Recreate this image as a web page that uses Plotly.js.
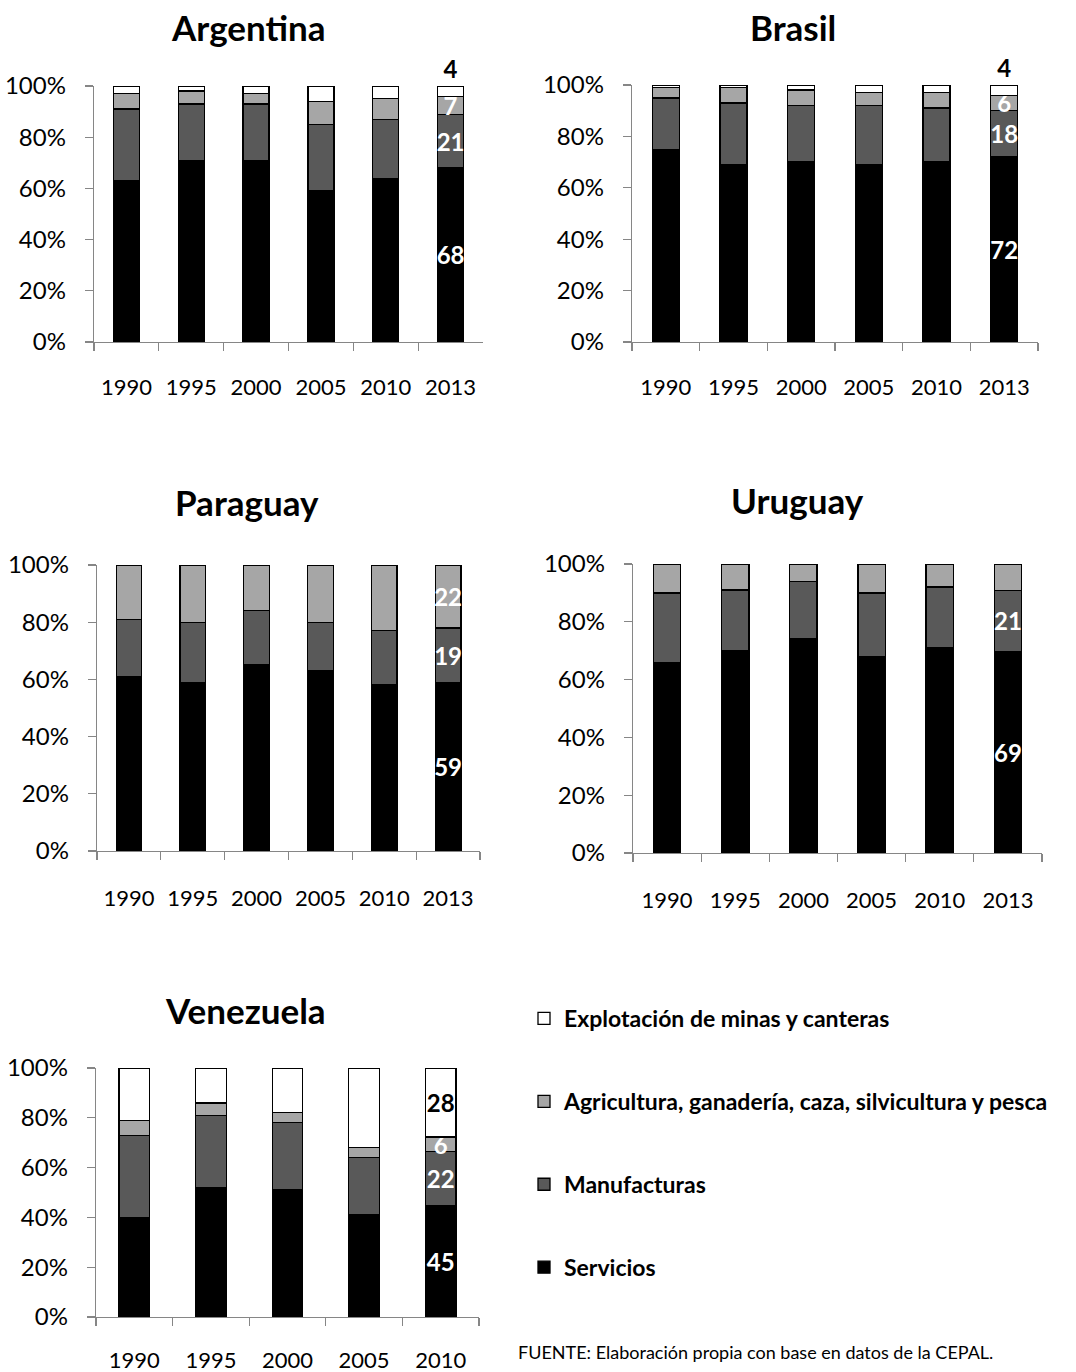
<!DOCTYPE html>
<html>
<head>
<meta charset="utf-8">
<script src="https://cdn.plot.ly/plotly-3.0.1.min.js"></script>
<style>html,body{margin:0;padding:0;background:#fff;}#chart{width:1076px;height:1372px;}</style>
</head>
<body>
<div id="chart"></div>
<script>
// ---- Data ----
const years = ['1990', '1995', '2000', '2005', '2010', '2013'];
const yearsVen = ['1990', '1995', '2000', '2005', '2010'];
const seriesNames = ['Servicios', 'Manufacturas', 'Agricultura, ganadería, caza, silvicultura y pesca', 'Explotación de minas y canteras'];
const countries = ['Argentina', 'Brasil', 'Paraguay', 'Uruguay', 'Venezuela'];

const argServicios = [63, 71, 71, 59, 64, 68];
const argManufacturas = [28, 22, 22, 26, 23, 21];
const argAgricultura = [6, 5, 4, 9, 8, 7];
const argMinas = [3, 2, 3, 6, 5, 4];

const braServicios = [75, 69, 70, 69, 70, 72];
const braManufacturas = [20, 24, 22, 23, 21, 18];
const braAgricultura = [4, 6, 6, 5, 6, 6];
const braMinas = [1, 1, 2, 3, 3, 4];

const parServicios = [61, 59, 65, 63, 58, 59];
const parManufacturas = [20, 21, 19, 17, 19, 19];
const parAgricultura = [19, 20, 16, 20, 23, 22];
const parMinas = [0, 0, 0, 0, 0, 0];

const uruServicios = [66, 70, 74, 68, 71, 69];
const uruManufacturas = [24, 21, 20, 22, 21, 21];
const uruAgricultura = [10, 9, 6, 10, 8, 9];
const uruMinas = [0, 0, 0, 0, 0, 0];

const venServicios = [40, 52, 51, 41, 45];
const venManufacturas = [33, 29, 27, 23, 22];
const venAgricultura = [6, 5, 4, 4, 6];
const venMinas = [21, 14, 18, 32, 28];

const yTickVals = [0, 20, 40, 60, 80, 100];
const sourceText = 'FUENTE: Elaboración propia con base en datos de la CEPAL.';

// ---- Styles ----
const fillColors = ['#000000', '#595959', '#a6a6a6', '#ffffff'];
const labelColors = ['#ffffff', '#ffffff', '#ffffff', '#000000'];
const legendRanks = [4, 3, 2, 1];
const FONT = 'Lato, "Open Sans", sans-serif';

const countryData = [
  {x: years, s: [argServicios, argManufacturas, argAgricultura, argMinas]},
  {x: years, s: [braServicios, braManufacturas, braAgricultura, braMinas]},
  {x: years, s: [parServicios, parManufacturas, parAgricultura, parMinas]},
  {x: years, s: [uruServicios, uruManufacturas, uruAgricultura, uruMinas]},
  {x: yearsVen, s: [venServicios, venManufacturas, venAgricultura, venMinas]}
];

// pixel boxes of plot areas [x0, x1, yTop, yBottom]
const boxes = [
  [94, 483, 86, 342],
  [632, 1038, 85, 342],
  [97, 480, 565, 851],
  [633, 1042, 564, 853],
  [96, 479, 1068, 1317]
];
const xStandoff = [25, 25, 27, 27, 23];
const titlePos = [[248, 27], [793, 27], [247, 502], [797, 500], [246, 1010]];
const W = 1076, H = 1372;

const traces = [];
countryData.forEach((c, ci) => {
  const axn = ci === 0 ? '' : String(ci + 1);
  c.s.forEach((vals, si) => {
    const last = vals.length - 1;
    const text = vals.map((v, i) => (i === last && v > 0) ? String(v) : '');
    const pos = vals.map((v, i) => (si === 3 && v < 8) ? 'outside' : 'inside');
    traces.push({
      type: 'bar',
      x: c.x,
      y: vals,
      name: seriesNames[si],
      legendgroup: 'g' + si,
      legendrank: legendRanks[si],
      showlegend: ci === 0,
      xaxis: 'x' + axn,
      yaxis: 'y' + axn,
      marker: {color: fillColors[si], line: {color: '#000000', width: 1.3}},
      text: text,
      textposition: pos,
      insidetextanchor: 'middle',
      constraintext: 'none',
      textangle: 0,
      cliponaxis: false,
      textfont: {family: FONT, size: 24, color: labelColors[si], weight: 'bold'},
      hoverinfo: 'name+y'
    });
  });
});

const layout = {
  width: W, height: H,
  margin: {l: 0, r: 0, t: 0, b: 0},
  paper_bgcolor: '#ffffff',
  plot_bgcolor: 'rgba(0,0,0,0)',
  barmode: 'stack',
  barnorm: 'percent',
  bargap: 0.6,
  font: {family: FONT, color: '#000000'},
  showlegend: true,
  legend: {
    x: 524 / W, y: 1 - 997 / H, xanchor: 'left', yanchor: 'top',
    traceorder: 'grouped',
    tracegroupgap: 50,
    font: {family: FONT, size: 23, color: '#000000', weight: 'bold'},
    bgcolor: 'rgba(0,0,0,0)'
  },
  annotations: [],
};

boxes.forEach((b, i) => {
  const axn = i === 0 ? '' : String(i + 1);
  layout['xaxis' + axn] = {
    domain: [b[0] / W, b[1] / W],
    anchor: 'y' + axn,
    type: 'category',
    showline: true, linecolor: '#868686', linewidth: 1.3,
    ticks: 'outside', tickson: 'boundaries', ticklen: 8, tickcolor: '#868686', tickwidth: 1.3,
    showgrid: false, zeroline: false,
    tickfont: {family: FONT, size: 22, color: '#000000'},
    ticklabelstandoff: xStandoff[i],
    fixedrange: true
  };
  layout['yaxis' + axn] = {
    domain: [1 - b[3] / H, 1 - b[2] / H],
    anchor: 'x' + axn,
    range: [0, 100],
    tickvals: yTickVals,
    ticktext: yTickVals.map(v => v + '%'),
    showline: true, linecolor: '#868686', linewidth: 1.3,
    ticks: 'outside', ticklen: 8, tickcolor: '#868686', tickwidth: 1.3,
    showgrid: false, zeroline: false,
    tickfont: {family: FONT, size: 24, color: '#000000'},
    ticklabelstandoff: 14,
    fixedrange: true
  };
  layout.annotations.push({
    text: countries[i], xref: 'paper', yref: 'paper',
    x: titlePos[i][0] / W, y: 1 - titlePos[i][1] / H,
    xanchor: 'center', yanchor: 'middle', showarrow: false,
    font: {family: FONT, size: 35, color: '#000000', weight: 'bold'}
  });
});

layout.annotations.push({
  text: sourceText, xref: 'paper', yref: 'paper',
  x: 516 / W, y: 1 - 1352 / H, xanchor: 'left', yanchor: 'middle', showarrow: false,
  font: {family: FONT, size: 18, color: '#000000'}
});

Plotly.newPlot('chart', traces, layout, {staticPlot: true, displayModeBar: false});
</script>
</body>
</html>
